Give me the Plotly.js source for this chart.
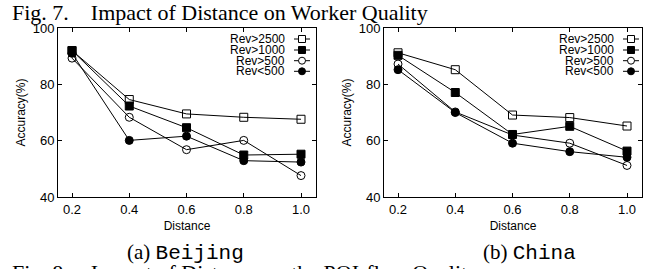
<!DOCTYPE html>
<html><head><meta charset="utf-8">
<script src="https://cdn.plot.ly/plotly-3.0.1.min.js"></script>
<style>html,body{margin:0;padding:0;background:#fff}#c{width:656px;height:269px}</style>
</head><body><div id="c"></div>
<script>
const distance = [0.2, 0.4, 0.6, 0.8, 1.0];
const seriesNames = ["Rev>2500", "Rev>1000", "Rev>500", "Rev<500"];
const beijingRev2500 = [92, 74.6, 69.5, 68.3, 67.6];
const beijingRev1000 = [92, 72.3, 64.6, 54.9, 55.2];
const beijingRev500  = [89.3, 68.3, 56.8, 60.1, 47.6];
const beijingRevLt500 = [91, 60.1, 61.6, 52.9, 52.4];
const chinaRev2500 = [91.2, 85.2, 69.1, 68.2, 65.2];
const chinaRev1000 = [90.3, 77.1, 62.2, 65.1, 56.3];
const chinaRev500  = [87.2, 70.2, 62, 59.1, 51.2];
const chinaRevLt500 = [85.2, 70, 59.1, 56.1, 54.1];
const yTicks = [40, 60, 80, 100];
const xTicks = [0.2, 0.4, 0.6, 0.8, 1.0];
const xTickLabels = ["0.2", "0.4", "0.6", "0.8", "1.0"];

const symbols = ["square-open", "square", "circle-open", "circle"];
const W = 656, H = 269;
const px = x => x / W, py = y => 1 - y / H;

const data = [];
const sets = [
  [beijingRev2500, beijingRev1000, beijingRev500, beijingRevLt500],
  [chinaRev2500, chinaRev1000, chinaRev500, chinaRevLt500]
];
sets.forEach((s, k) => {
  s.forEach((vals, i) => {
    data.push({
      x: distance, y: vals, type: "scatter", mode: "lines+markers",
      name: seriesNames[i], showlegend: false,
      xaxis: k ? "x2" : "x", yaxis: k ? "y2" : "y",
      line: {color: "#000", width: 1},
      marker: {symbol: symbols[i], size: 8, color: "#000", line: {color: "#000", width: 1}}
    });
  });
});

const sans = "Liberation Sans, Arial, sans-serif";
const axFont = {family: sans, size: 13, color: "#000"};
function xa(dom) {
  return {domain: dom, range: [0.151, 1.0524], tickvals: xTicks, ticktext: xTickLabels,
    ticks: "inside", ticklen: 4, tickcolor: "#000", showline: true, mirror: "ticks",
    linecolor: "#000", linewidth: 1, showgrid: false, zeroline: false, tickfont: axFont,
    title: {text: "Distance", font: {family: sans, size: 12, color: "#000"}, standoff: 6}};
}
function ya(anchor) {
  return {domain: [py(197), py(28)], range: [40, 100], tickvals: yTicks, anchor: anchor,
    ticks: "inside", ticklen: 4, tickcolor: "#000", showline: true, mirror: "ticks",
    linecolor: "#000", linewidth: 1, showgrid: false, zeroline: false, tickfont: axFont,
    title: {text: "Accuracy(%)", font: {family: sans, size: 12, color: "#000"}, standoff: 4}};
}

const annotations = [];
const shapes = [];
const legendRows = [39, 50, 60.7, 71.3];
[[287, 302], [616, 631]].forEach(([tx, sx]) => {
  seriesNames.forEach((n, i) => {
    const y = legendRows[i];
    annotations.push({xref: "paper", yref: "paper", x: px(tx), y: py(y), xanchor: "right", yanchor: "middle",
      text: n, showarrow: false, font: {family: sans, size: 12, color: "#000"}});
    shapes.push({type: "line", xref: "paper", yref: "paper", x0: px(sx - 8), x1: px(sx + 8), y0: py(y), y1: py(y), line: {color: "#000", width: 1}});
    const filled = (i % 2) === 1;
    shapes.push({type: i < 2 ? "rect" : "circle", xref: "paper", yref: "paper",
      x0: px(sx - 3.5), x1: px(sx + 3.5), y0: py(y + 3.5), y1: py(y - 3.5),
      line: {color: "#000", width: 1}, fillcolor: filled ? "#000" : "#fff"});
  });
});

const serif = "Liberation Serif, Times New Roman, serif";
annotations.push({xref: "paper", yref: "paper", x: px(10), y: py(-2), xanchor: "left", yanchor: "top", showarrow: false,
  text: "Fig. 7.&nbsp;&nbsp;&nbsp;&nbsp;Impact of Distance on Worker Quality",
  font: {family: serif, size: 22, color: "#000"}});
annotations.push({xref: "paper", yref: "paper", x: px(10), y: py(258), xanchor: "left", yanchor: "top", showarrow: false,
  text: "Fig. 8.&nbsp;&nbsp;&nbsp;&nbsp;Impact of Distance on the POI-flow Quality",
  font: {family: serif, size: 22, color: "#000"}});
annotations.push({xref: "paper", yref: "paper", x: px(186), y: py(252), xanchor: "center", yanchor: "middle", showarrow: false,
  text: "(a) <span style='font-family:Liberation Mono, Courier New, monospace'>Beijing</span>",
  font: {family: serif, size: 21, color: "#000"}});
annotations.push({xref: "paper", yref: "paper", x: px(529), y: py(252), xanchor: "center", yanchor: "middle", showarrow: false,
  text: "(b) <span style='font-family:Liberation Mono, Courier New, monospace'>China</span>",
  font: {family: serif, size: 21, color: "#000"}});

const layout = {
  width: W, height: H, margin: {l: 0, r: 0, t: 0, b: 0},
  paper_bgcolor: "#fff", plot_bgcolor: "#fff", showlegend: false,
  xaxis: Object.assign(xa([px(58), px(316)]), {anchor: "y"}),
  yaxis: ya("x"),
  xaxis2: Object.assign(xa([px(384), px(642)]), {anchor: "y2"}),
  yaxis2: ya("x2"),
  annotations: annotations, shapes: shapes
};
Plotly.newPlot("c", data, layout, {staticPlot: true});
</script></body></html>
